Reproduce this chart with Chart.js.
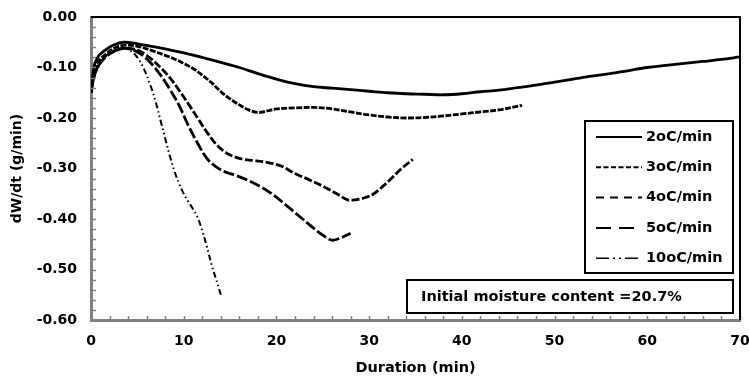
<!DOCTYPE html>
<html>
<head>
<meta charset="utf-8">
<script src="https://cdn.jsdelivr.net/npm/chart.js@4/dist/chart.umd.min.js"></script>
<style>
  body { margin: 0; background: #fff; }
  canvas { display: block; }
</style>
</head>
<body>
<canvas id="rateChart" width="749" height="377"></canvas>
<script>
// drying rate curves (minutes, g/min)
const time2 = [0, 0.3, 0.7, 1.5, 2.5, 3.5, 5, 6.5, 8, 10, 12, 14, 16, 18, 20, 22, 24, 26, 28, 30, 32, 34, 36, 38, 40, 42, 44, 46, 48, 50, 52, 54, 56, 58, 60, 62, 64, 66, 68, 70];
const rate2 = [-0.15, -0.1, -0.08, -0.066, -0.055, -0.05, -0.053, -0.058, -0.063, -0.071, -0.08, -0.09, -0.1, -0.112, -0.123, -0.132, -0.138, -0.141, -0.144, -0.147, -0.15, -0.152, -0.153, -0.154, -0.152, -0.148, -0.145, -0.14, -0.135, -0.129, -0.123, -0.117, -0.112, -0.106, -0.1, -0.096, -0.092, -0.088, -0.084, -0.079];

const time3 = [0, 0.3, 0.7, 1.5, 2.5, 3.5, 5, 6.5, 8, 9, 10, 11, 12, 13, 14, 15, 16, 17, 18, 19, 20, 22, 24, 26, 28, 30, 32, 34, 36, 38, 40, 42, 44, 46.5];
const rate3 = [-0.15, -0.11, -0.09, -0.075, -0.062, -0.056, -0.058, -0.066, -0.076, -0.083, -0.092, -0.102, -0.115, -0.13, -0.148, -0.162, -0.174, -0.184, -0.189, -0.186, -0.182, -0.18, -0.179, -0.182, -0.188, -0.194, -0.198, -0.2, -0.199, -0.196, -0.192, -0.188, -0.184, -0.175];

const time4 = [0, 0.3, 0.7, 1.5, 2.5, 3.5, 4.5, 5.5, 6.5, 7.5, 8.5, 9.5, 10.5, 11.5, 12.5, 13.5, 14.5, 15.5, 16.5, 17.5, 19, 20.5, 22, 23.5, 25, 26.5, 27.7, 28.5, 29.5, 30.5, 31.5, 32.5, 33.5, 34.7];
const rate4 = [-0.15, -0.12, -0.1, -0.08, -0.068, -0.062, -0.063, -0.07, -0.083, -0.1, -0.12, -0.145, -0.172, -0.2, -0.228, -0.252, -0.268, -0.277, -0.282, -0.284, -0.288, -0.295, -0.31, -0.322, -0.335, -0.35, -0.362, -0.362, -0.358, -0.35, -0.335, -0.318, -0.3, -0.282];

const time5 = [0, 0.3, 0.7, 1.5, 2.5, 3.5, 4.5, 5.5, 6.5, 7.5, 8.5, 9.5, 10.5, 11.5, 12.5, 13.5, 14.5, 15.5, 16.5, 18, 19.5, 21, 22.5, 24, 25, 26, 27, 28];
const rate5 = [-0.15, -0.12, -0.1, -0.08, -0.068, -0.062, -0.065, -0.075, -0.092, -0.115, -0.143, -0.175, -0.215, -0.25, -0.28, -0.297, -0.307, -0.313, -0.32, -0.333, -0.35, -0.372, -0.395, -0.418, -0.432, -0.442, -0.437, -0.428];

const time10 = [0, 0.3, 0.7, 1.5, 2.5, 3.5, 4.5, 5.5, 6.5, 7, 7.5, 8, 8.5, 9, 9.5, 10, 10.5, 11, 11.5, 12, 12.5, 13, 13.5, 14];
const rate10 = [-0.15, -0.12, -0.1, -0.08, -0.066, -0.062, -0.07, -0.095, -0.14, -0.17, -0.205, -0.24, -0.275, -0.305, -0.33, -0.35, -0.366, -0.38, -0.397, -0.423, -0.455, -0.49, -0.52, -0.55];

const seriesLabels = ["2oC/min", "3oC/min", "4oC/min", "5oC/min", "10oC/min"];
const yTicks = [0, -0.1, -0.2, -0.3, -0.4, -0.5, -0.6];
const xTicks = [0, 10, 20, 30, 40, 50, 60, 70];
const noteText = "Initial moisture content =20.7%";

const FONT = '"DejaVu Sans", sans-serif';

function toPoints(xs, ys) {
    return xs.map((x, i) => ({ x: x, y: ys[i] }));
}

// dash patterns used on the curves and in the legend
const curveDash = [[], [6, 1.5], [8, 2.5], [11, 3], [6, 3, 1.5, 3, 1.5, 3]];
const legendDash = [[], [5, 2.5], [8, 6], [15, 8], [13, 4, 2, 4, 2, 4]];

const frame = {
    id: "frame",
    afterDraw(chart) {
        const ctx = chart.ctx;
        const a = chart.chartArea;
        const xs = chart.scales.x;
        const ys = chart.scales.y;
        ctx.save();

        // minor ticks, drawn inward
        ctx.strokeStyle = "#808080";
        ctx.lineWidth = 1.5;
        ctx.beginPath();
        for (let v = 0; v <= 70; v += 2) {
            const px = Math.round(xs.getPixelForValue(v)) + 0.5;
            ctx.moveTo(px, a.bottom);
            ctx.lineTo(px, a.bottom - 4);
        }
        for (let i = 0; i <= 30; i++) {
            const py = Math.round(ys.getPixelForValue(-i * 0.02)) + 0.5;
            ctx.moveTo(a.left, py);
            ctx.lineTo(a.left + 5, py);
        }
        ctx.stroke();

        // top and right edges of the box
        ctx.strokeStyle = "#000";
        ctx.lineWidth = 2;
        ctx.beginPath();
        ctx.moveTo(a.left, a.top);
        ctx.lineTo(a.right, a.top);
        ctx.lineTo(a.right, a.bottom);
        ctx.stroke();

        // legend box
        ctx.fillStyle = "#fff";
        ctx.fillRect(585, 121, 148, 152);
        ctx.strokeRect(585, 121, 148, 152);
        ctx.font = "bold 14.5px " + FONT;
        ctx.textBaseline = "middle";
        ctx.fillStyle = "#000";
        seriesLabels.forEach((label, i) => {
            const rowY = 137 + i * 30.3;
            ctx.setLineDash(legendDash[i]);
            ctx.lineWidth = i === 4 ? 1.5 : 2;
            ctx.beginPath();
            ctx.moveTo(596, rowY);
            ctx.lineTo(642, rowY);
            ctx.stroke();
            ctx.setLineDash([]);
            ctx.fillText(label, 646, rowY);
        });

        // note box
        ctx.lineWidth = 2;
        ctx.fillStyle = "#fff";
        ctx.fillRect(407, 280, 326, 33);
        ctx.strokeRect(407, 280, 326, 33);
        ctx.fillStyle = "#000";
        ctx.fillText(noteText, 421, 297);

        ctx.restore();
    }
};

const datasets = [
    toPoints(time2, rate2),
    toPoints(time3, rate3),
    toPoints(time4, rate4),
    toPoints(time5, rate5),
    toPoints(time10, rate10)
].map((pts, i) => ({
    label: seriesLabels[i],
    data: pts,
    borderColor: "#000",
    borderWidth: i === 4 ? 2 : 2.8,
    borderDash: curveDash[i],
    pointRadius: 0,
    tension: 0.35,
    fill: false
}));

new Chart(document.getElementById("rateChart"), {
    type: "line",
    data: { datasets: datasets },
    options: {
        responsive: false,
        animation: false,
        layout: { autoPadding: false, padding: { left: 0, right: 9, top: 17, bottom: 0 } },
        plugins: {
            legend: { display: false },
            tooltip: { enabled: false }
        },
        scales: {
            x: {
                type: "linear",
                min: 0,
                max: 70,
                afterFit: (s) => { s.height = 57; s.paddingLeft = 0; s.paddingRight = 0; },
                afterBuildTicks: (s) => { s.ticks = xTicks.map(v => ({ value: v })); },
                ticks: {
                    color: "#000",
                    font: { family: FONT, size: 14, weight: "bold" },
                    padding: 13,
                    maxRotation: 0
                },
                grid: { display: false, drawTicks: false },
                border: { display: true, color: "#808080", width: 3 },
                title: {
                    display: true,
                    text: "Duration (min)",
                    color: "#000",
                    font: { family: FONT, size: 14.5, weight: "bold" },
                    padding: { top: 0, bottom: 0 }
                }
            },
            y: {
                min: -0.6,
                max: 0,
                afterFit: (s) => { s.width = 91; s.paddingTop = 0; s.paddingBottom = 0; },
                afterBuildTicks: (s) => { s.ticks = yTicks.map(v => ({ value: v })); },
                ticks: {
                    color: "#000",
                    font: { family: FONT, size: 14, weight: "bold" },
                    padding: 14,
                    callback: (v) => (Math.abs(v) < 1e-9 ? 0 : v).toFixed(2)
                },
                grid: { display: false, drawTicks: false },
                border: { display: true, color: "#808080", width: 3 },
                title: {
                    display: true,
                    text: "dW/dt (g/min)",
                    color: "#000",
                    font: { family: FONT, size: 14, weight: "bold" },
                    padding: { top: 9, bottom: 0 }
                }
            }
        }
    },
    plugins: [frame]
});
</script>
</body>
</html>
